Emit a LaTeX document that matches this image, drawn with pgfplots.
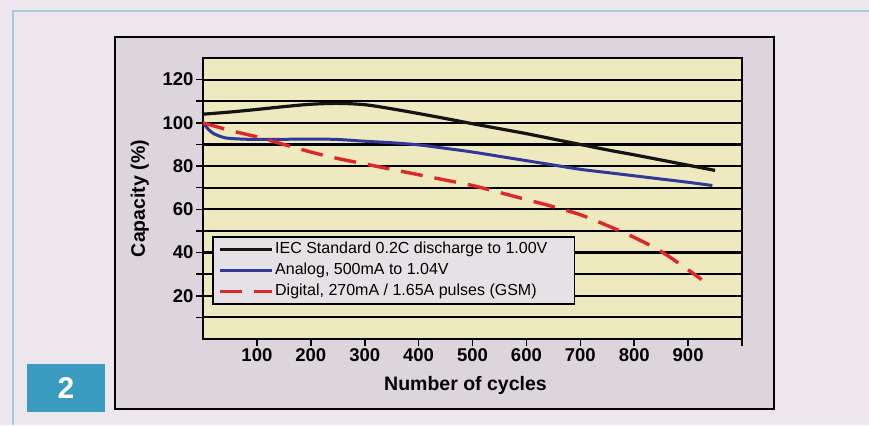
\documentclass[border=0pt]{standalone}
\usepackage{fontspec}
\setmainfont{Liberation Sans}
\usepackage{pgfplots}
\pgfplotsset{compat=1.18}
\definecolor{pagebg}{HTML}{EDE6EC}
\definecolor{boxbg}{HTML}{DCD5DB}
\definecolor{plotbg}{HTML}{EEE9BE}
\definecolor{legendbg}{HTML}{E6E1E5}
\definecolor{boxblue}{HTML}{3A9BC1}
\definecolor{framecyan}{HTML}{A0CDDC}
\definecolor{curveblue}{HTML}{32379A}
\definecolor{curvered}{HTML}{DC2828}
\definecolor{curveblack}{HTML}{141414}
\begin{document}
\begin{tikzpicture}[x=1bp,y=1bp]
\useasboundingbox (0,0) rectangle (869,425);
\fill[pagebg] (0,0) rectangle (869,425);
\draw[framecyan, line width=1.5bp] (13,0) -- (13,414) -- (869,414);
\filldraw[fill=boxbg, draw=black, line width=1.8bp] (115,16) rectangle (774,388);
\fill[boxblue] (27,13) rectangle (105,61);
\node[white, font=\bfseries\fontsize{30bp}{30bp}\selectfont] at (66,37) {2};
\begin{axis}[
  at={(203bp,86bp)}, anchor=south west,
  scale only axis, width=539bp, height=281bp,
  xmin=0, xmax=1000, ymin=0, ymax=130,
  axis background/.style={fill=plotbg},
  axis line style={line width=2.6bp, black},
  xtick={100,200,...,1000},
  xticklabels={100,200,300,400,500,600,700,800,900,{}},
  ytick={10,20,...,120},
  yticklabels={{},20,{},40,{},60,{},80,{},100,{},120},
  xtick pos=bottom, ytick pos=left,
  tick align=outside, major tick length=7bp,
  tick style={black, line width=1.6bp},
  ymajorgrids, grid style={black, line width=2.2bp},
  tick label style={font=\bfseries\fontsize{18.5bp}{19bp}\selectfont},
  yticklabel style={xshift=1bp},
  xticklabel style={yshift=1bp},
  xlabel={Number of cycles}, ylabel={Capacity (\%)},
  label style={font=\bfseries\fontsize{19.5bp}{20bp}\selectfont},
  xlabel style={at={(axis description cs:0.487,-0.164)}, anchor=center},
  ylabel style={at={(axis description cs:-0.117,0.5)}, anchor=center},
  legend style={at={(axis description cs:0.0167,0.3665)}, anchor=north west,
    fill=legendbg, draw=black, line width=1.6bp,
    font=\fontsize{16bp}{18bp}\selectfont,
    inner xsep=5bp, inner ysep=2bp, row sep=0bp,
    nodes={text height=12bp, text depth=4bp, inner ysep=2.5bp}},
  legend cell align=left,
  legend image code/.code={\draw[#1] (0bp,0bp) -- (52bp,0bp);},
]
\addplot[curveblack, line width=3.2bp, smooth, tension=0.5] coordinates {
(0,104) (50,105) (100,106.2) (150,107.5) (200,108.6) (250,109) (300,108.4)
(350,106.5) (400,104.3) (450,102) (500,99.6) (550,97.3) (600,95) (650,92.5)
(700,90) (750,87.5) (800,85.2) (850,82.8) (900,80.4) (950,78)};
\addlegendentry{IEC Standard 0.2C discharge to 1.00V\kern20bp}
\addplot[curveblue, line width=3bp, smooth, tension=0.5] coordinates {
(0,100) (10,97) (20,95) (35,93.5) (50,92.8) (100,92.3) (200,92.5) (250,92.3)
(300,91.5) (350,90.8) (400,89.8) (450,88.2) (500,86.5) (550,84.5) (600,82.5)
(650,80.5) (700,78.5) (750,77) (800,75.5) (850,74) (900,72.5) (945,71)};
\addlegendentry{Analog, 500mA to 1.04V}
\addplot[curvered, line width=3.4bp, dash pattern=on 22bp off 12bp, smooth, tension=0.5] coordinates {
(0,100) (50,96.5) (100,93.5) (150,90) (200,86.5) (250,83.5) (300,81) (350,78.5)
(400,76) (450,73.5) (500,71) (550,67.8) (600,64.5) (650,61.2) (700,57.5) (750,52.5)
(800,47) (850,40.5) (900,32) (925,27.5)};
\addlegendentry{Digital, 270mA / 1.65A pulses (GSM)}
\end{axis}
\end{tikzpicture}
\end{document}
